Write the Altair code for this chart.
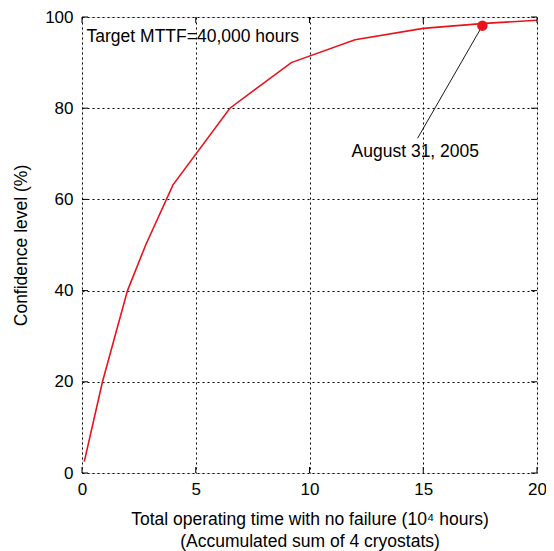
import altair as alt
import pandas as pd

# Curve values
hours = [0.1, 0.9, 2.0, 2.8, 4.0, 6.5, 9.2, 12.0, 15.0, 17.7, 20.0]
confidence = [2.5, 20.0, 40.0, 50.0, 63.2, 80.0, 90.0, 95.0, 97.5, 98.6, 99.3]

marker_x = [17.6]
marker_y = [98.1]

x_ticks = [0, 5, 10, 15, 20]
y_ticks = [0, 20, 40, 60, 80, 100]

FONT = "Liberation Sans"
W, H = 455, 456

curve_df = pd.DataFrame({"x": hours, "y": confidence})
marker_df = pd.DataFrame({"x": marker_x, "y": marker_y})
xt_df = pd.DataFrame({"v": x_ticks})
yt_df = pd.DataFrame({"v": y_ticks})
leader_df = pd.DataFrame({"x": [17.6], "y": [98.1], "x2": [14.75], "y2": [73.4]})
label_df = pd.DataFrame({"x": [14.65], "y": [70.5], "t": ["August 31, 2005"]})
target_df = pd.DataFrame({"x": [0.2], "y": [95.6], "t": ["Target MTTF=40,000 hours"]})

xs = alt.Scale(domain=[0, 20], nice=False, zero=False)
ys = alt.Scale(domain=[0, 100], nice=False, zero=False)

x_axis = alt.Axis(
    values=x_ticks, grid=True, gridDash=[2, 3], gridColor="black", gridOpacity=1,
    gridWidth=1, ticks=False, domain=False, labelFont=FONT, labelFontSize=17,
    labelColor="black", labelPadding=8, labelFlush=False,
    title=["Total operating time with no failure (10⁴ hours)", "(Accumulated sum of 4 cryostats)"],
    titleFont=FONT, titleFontSize=17.5, titleFontWeight="normal", titleColor="black",
    titlePadding=13, titleLineHeight=22,
)
y_axis = alt.Axis(
    values=y_ticks, grid=True, gridDash=[2, 3], gridColor="black", gridOpacity=1,
    gridWidth=1, ticks=False, domain=False, labelFont=FONT, labelFontSize=17,
    labelColor="black", labelPadding=9, labelFlush=False,
    title="Confidence level (%)", titleFont=FONT, titleFontSize=17.5,
    titleFontWeight="normal", titleColor="black", titlePadding=14,
)

curve = alt.Chart(curve_df).mark_line(color="#e8141c", strokeWidth=1.6).encode(
    x=alt.X("x:Q", scale=xs, axis=x_axis),
    y=alt.Y("y:Q", scale=ys, axis=y_axis),
)

tick_len = 6
bottom_ticks = alt.Chart(xt_df).mark_rule(color="black", strokeWidth=1).encode(
    x=alt.X("v:Q", scale=xs), y=alt.value(H), y2=alt.value(H - tick_len))
top_ticks = alt.Chart(xt_df).mark_rule(color="black", strokeWidth=1).encode(
    x=alt.X("v:Q", scale=xs), y=alt.value(0), y2=alt.value(tick_len))
left_ticks = alt.Chart(yt_df).mark_rule(color="black", strokeWidth=1).encode(
    y=alt.Y("v:Q", scale=ys), x=alt.value(0), x2=alt.value(tick_len))
right_ticks = alt.Chart(yt_df).mark_rule(color="black", strokeWidth=1).encode(
    y=alt.Y("v:Q", scale=ys), x=alt.value(W), x2=alt.value(W - tick_len))

leader = alt.Chart(leader_df).mark_rule(color="black", strokeWidth=0.9).encode(
    x=alt.X("x:Q", scale=xs), y=alt.Y("y:Q", scale=ys),
    x2="x2:Q", y2="y2:Q")

marker = alt.Chart(marker_df).mark_circle(color="#e8141c", opacity=1, size=110).encode(
    x=alt.X("x:Q", scale=xs), y=alt.Y("y:Q", scale=ys))

label = alt.Chart(label_df).mark_text(font=FONT, fontSize=17.5, color="black",
                                      align="center", baseline="middle").encode(
    x=alt.X("x:Q", scale=xs), y=alt.Y("y:Q", scale=ys), text="t:N")

target = alt.Chart(target_df).mark_text(font=FONT, fontSize=17.5, color="black",
                                        align="left", baseline="middle").encode(
    x=alt.X("x:Q", scale=xs), y=alt.Y("y:Q", scale=ys), text="t:N")

chart = alt.layer(
    curve, bottom_ticks, top_ticks, left_ticks, right_ticks, leader, marker, label, target
).properties(
    width=W, height=H,
    autosize=alt.AutoSizeParams(type="none"),
    padding={"left": 74, "top": 9, "right": 9, "bottom": 78},
).configure_view(
    stroke="black", strokeWidth=1.5
).configure(background="white")

chart.save("out.html", embed_options={"renderer": "svg", "actions": False})
